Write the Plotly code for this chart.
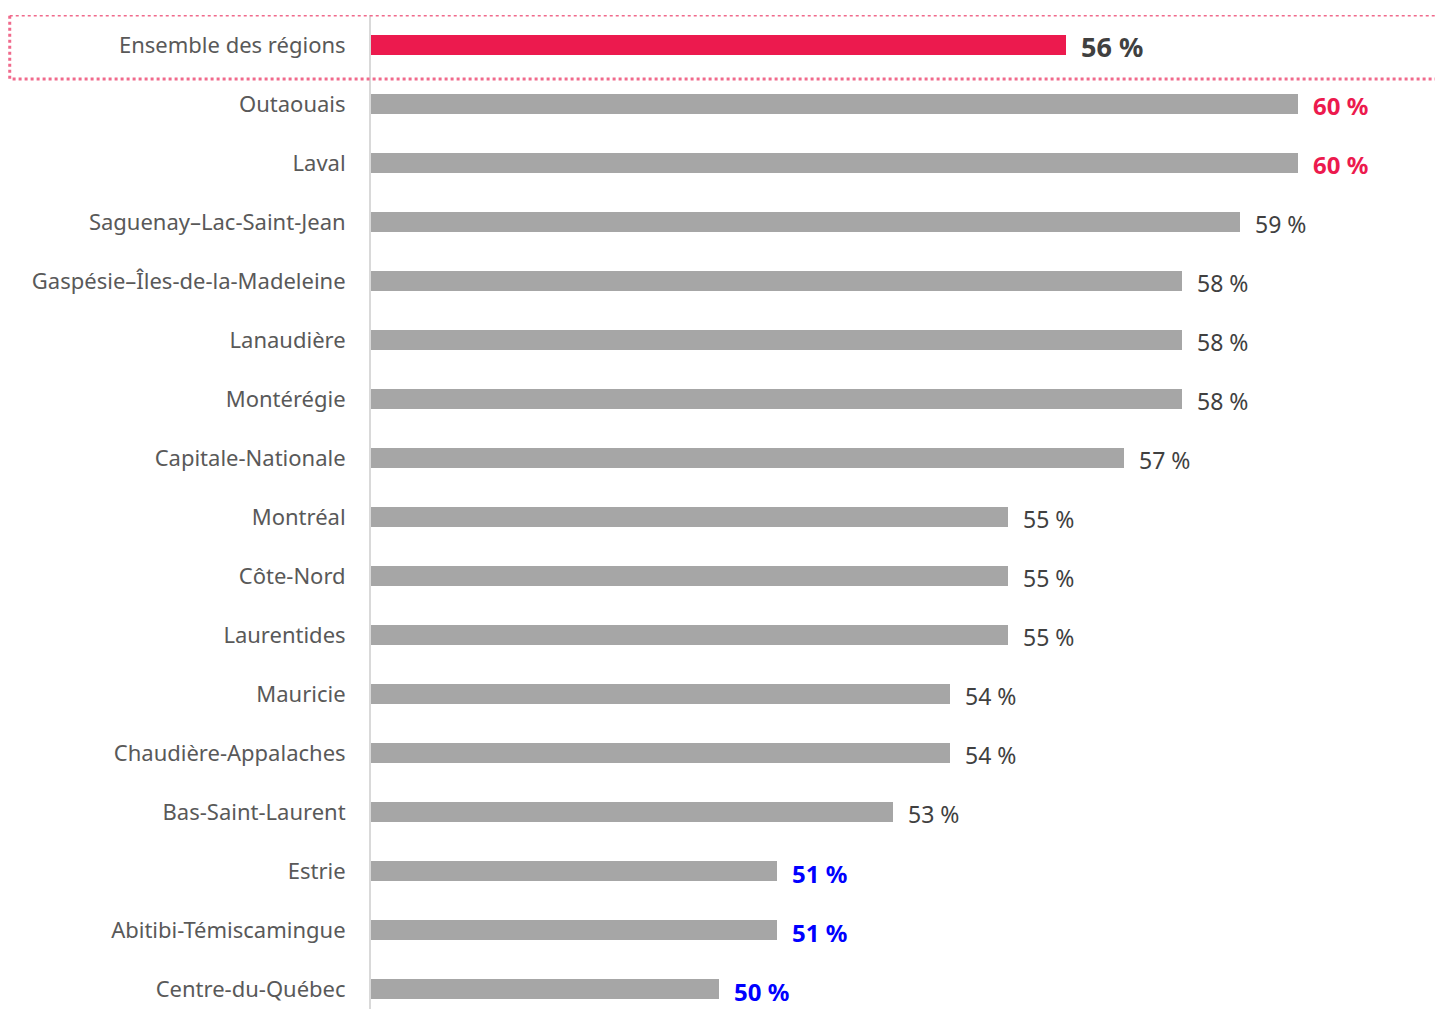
import plotly.graph_objects as go

regions = [
    "Ensemble des régions", "Outaouais", "Laval", "Saguenay–Lac-Saint-Jean",
    "Gaspésie–Îles-de-la-Madeleine", "Lanaudière", "Montérégie",
    "Capitale-Nationale", "Montréal", "Côte-Nord", "Laurentides", "Mauricie",
    "Chaudière-Appalaches", "Bas-Saint-Laurent", "Estrie",
    "Abitibi-Témiscamingue", "Centre-du-Québec",
]
values = [56, 60, 60, 59, 58, 58, 58, 57, 55, 55, 55, 54, 54, 53, 51, 51, 50]
# highlight status: "total", "high", "low", or "" for normal
status = ["total", "high", "high", "", "", "", "", "", "", "", "", "", "", "", "low", "low", "low"]

RED = "#ec1a4e"
GRAY = "#a6a6a6"
BLUE = "#0000ff"
TXT = "#404040"
FONT = "Noto Sans, Open Sans, sans-serif"

bar_colors = [RED if s == "total" else GRAY for s in status]

fig = go.Figure()
fig.add_trace(go.Bar(
    x=values, y=regions, orientation="h",
    marker=dict(color=bar_colors, line=dict(width=0)),
    width=0.355, hoverinfo="skip",
))

for r, v, s in zip(regions, values, status):
    label = f"{v} %"
    if s == "total":
        color, txt, size = TXT, f"<b>{label}</b>", 27
    elif s == "high":
        color, txt, size = RED, f"<b>{label}</b>", 24
    elif s == "low":
        color, txt, size = BLUE, f"<b>{label}</b>", 24
    else:
        color, txt, size = TXT, label, 23
    fig.add_annotation(
        x=v, y=r, text=txt, showarrow=False, xanchor="left", yanchor="middle",
        xshift=13, yshift=-2,
        font=dict(family=FONT, size=size, color=color),
    )

# dotted highlight box around the overall row
fig.add_shape(
    type="rect", xref="paper", yref="y",
    x0=-0.337, x1=1.01, y0=-0.508, y1=0.575,
    line=dict(color="#f06a8c", width=3, dash="dot"),
    fillcolor="rgba(0,0,0,0)", layer="above",
)

fig.update_layout(
    width=1435, height=1001,
    margin=dict(l=363, r=0, t=7, b=0),
    paper_bgcolor="white", plot_bgcolor="white",
    showlegend=False,
    bargap=0,
    font=dict(family=FONT, color="#595959"),
)
fig.update_xaxes(
    range=[44, 62.5], showgrid=False, zeroline=False, showticklabels=False,
    showline=False, fixedrange=True,
)
fig.update_yaxes(
    type="category", categoryorder="array", categoryarray=regions,
    range=[16.339, -0.508], showgrid=False, zeroline=False,
    showline=True, linecolor="#d9d9d9", linewidth=2,
    ticks="", ticklabelstandoff=19,
    tickfont=dict(family=FONT, size=22, color="#595959"),
)

fig.write_html("out.html")
